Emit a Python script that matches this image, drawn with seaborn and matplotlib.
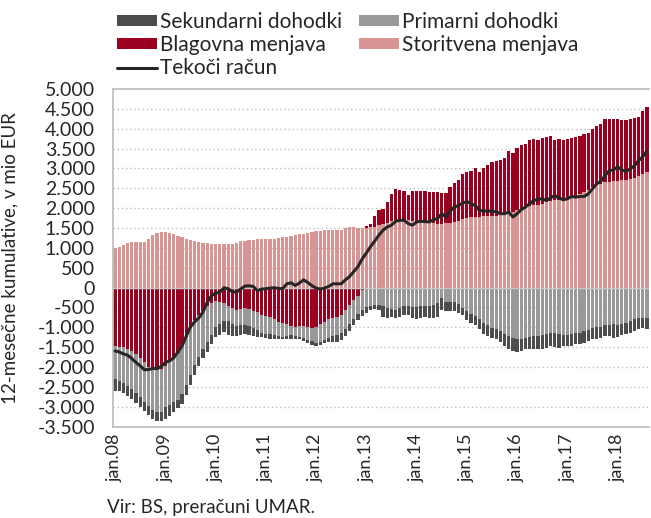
import numpy as np
import pandas as pd
import matplotlib
matplotlib.use('Agg')
import matplotlib.pyplot as plt
import seaborn as sns
from matplotlib.ticker import FuncFormatter, MultipleLocator

# mesečni podatki jan.2008 - avg.2018, 12-mesečne kumulative v mio EUR
months = pd.date_range('2008-01-01', '2018-08-01', freq='MS')

storitvena = [
    984, 1009, 1059, 1109, 1159, 1151, 1151, 1151, 1226, 1318, 1376, 1393,
    1393, 1376, 1343, 1309, 1276, 1226, 1201, 1184, 1159, 1126, 1110, 1094,
    1094, 1100, 1100, 1094, 1100, 1130, 1160, 1180, 1200, 1205, 1210, 1210,
    1215, 1215, 1220, 1240, 1260, 1280, 1300, 1320, 1340, 1360, 1380, 1400,
    1420, 1430, 1440, 1450, 1455, 1455, 1460, 1500, 1520, 1525, 1510, 1505,
    1510, 1527, 1530, 1570, 1590, 1625, 1670, 1700, 1710, 1705, 1690, 1675,
    1665, 1651, 1640, 1628, 1620, 1612, 1609, 1615, 1630, 1655, 1680, 1725,
    1760, 1776, 1780, 1785, 1790, 1795, 1800, 1810, 1820, 1830, 1850, 1900,
    1950, 1990, 2025, 2045, 2067, 2090, 2110, 2150, 2190, 2200, 2210, 2230,
    2250, 2270, 2300, 2350, 2400, 2450, 2520, 2570, 2620, 2650, 2665, 2675,
    2690, 2700, 2710, 2730, 2760, 2800, 2860, 2900,
]
blagovna = [
    -1472, -1489, -1505, -1539, -1597, -1664, -1764, -1872, -1989, -2047, -2072, -2055,
    -1980, -1872, -1764, -1639, -1455, -1239, -1014, -806, -681, -581, -472, -381,
    -347, -364, -381, -456, -514, -556, -539, -514, -539, -581, -614, -681,
    -722, -739, -789, -872, -897, -931, -972, -989, -964, -972, -997, -1014,
    -989, -931, -864, -781, -756, -739, -681, -572, -431, -306, -206, -72,
    30, 80, 263, 373, 395, 527, 690, 785, 750, 738, 628, 768,
    761, 775, 786, 790, 781, 789, 776, 770, 896, 980, 1030, 1135,
    1150, 1167, 1230, 1133, 1220, 1298, 1351, 1383, 1398, 1430, 1576, 1476,
    1576, 1594, 1584, 1681, 1667, 1619, 1649, 1642, 1628, 1509, 1524, 1479,
    1484, 1489, 1492, 1468, 1476, 1451, 1464, 1497, 1506, 1584, 1569, 1559,
    1544, 1509, 1499, 1504, 1499, 1492, 1590, 1650,
]
primarni = [
    -833, -858, -900, -950, -958, -1000, -1000, -1000, -983, -1050, -1066, -1083,
    -1041, -1075, -1108, -1183, -1225, -1208, -1191, -1150, -1066, -958, -900, -816,
    -650, -550, -466, -383, -392, -417, -400, -433, -441, -450, -458, -458,
    -458, -441, -417, -358, -342, -292, -233, -225, -275, -300, -317, -342,
    -400, -441, -466, -491, -475, -466, -458, -466, -483, -475, -458, -500,
    -489, -456, -431, -431, -472, -514, -539, -556, -514, -472, -472, -489,
    -489, -472, -472, -472, -447, -389, -264, -364, -372, -372, -406, -514,
    -597, -664, -722, -789, -889, -955, -1014, -1055, -1097, -1180, -1222, -1264,
    -1289, -1289, -1264, -1239, -1222, -1222, -1205, -1180, -1139, -1155, -1180, -1205,
    -1205, -1180, -1155, -1139, -1105, -1072, -1014, -997, -989, -955, -939, -930,
    -955, -930, -889, -847, -805, -772, -764, -764,
]
sekundarni = [
    -292, -258, -250, -250, -250, -250, -250, -250, -250, -208, -233, -233,
    -283, -292, -267, -217, -250, -250, -250, -250, -225, -225, -250, -233,
    -250, -275, -275, -358, -317, -250, -250, -233, -225, -200, -167, -100,
    -83, -108, -100, -75, -58, -67, -83, -75, -58, -75, -75, -92,
    -83, -75, -75, -92, -142, -167, -183, -183, -183, -175, -158, -150,
    -150, -100, -108, -125, -267, -250, -200, -208, -225, -208, -208, -275,
    -300, -292, -267, -292, -317, -350, -292, -217, -225, -225, -233, -167,
    -225, -225, -233, -250, -292, -267, -250, -250, -267, -292, -317, -333,
    -333, -308, -292, -300, -317, -333, -333, -333, -333, -342, -333, -267,
    -267, -292, -275, -275, -283, -275, -292, -292, -275, -267, -283, -333,
    -283, -275, -292, -292, -292, -267, -250, -275,
]
tekoci = [
    -1597, -1622, -1672, -1705, -1789, -1889, -1972, -2072, -2064, -2039, -2039, -1989,
    -1889, -1847, -1772, -1622, -1472, -1222, -989, -864, -764, -614, -372, -206,
    -139, -122, -6, -31, -106, -114, -39, 36, 44, 28, -81, -39,
    -31, -14, -6, -22, -31, 94, 119, 52, 111, 194, 128, 44,
    -14, -39, -14, 28, 94, 94, 94, 194, 277, 402, 527, 720,
    870, 1030, 1170, 1320, 1444, 1527, 1569, 1669, 1694, 1694, 1610, 1569,
    1652, 1669, 1660, 1652, 1710, 1735, 1860, 1777, 1927, 2027, 2068, 2127,
    2168, 2110, 2068, 1943, 1927, 1927, 1918, 1910, 1860, 1860, 1902, 1777,
    1860, 1960, 2027, 2110, 2193, 2227, 2235, 2193, 2260, 2318, 2260, 2210,
    2235, 2293, 2277, 2293, 2293, 2360, 2485, 2610, 2677, 2818, 2943, 2960,
    3043, 2960, 2926, 2985, 3068, 3193, 3293, 3443,
]

df = pd.DataFrame({
    'Storitvena menjava': storitvena,
    'Blagovna menjava': blagovna,
    'Primarni dohodki': primarni,
    'Sekundarni dohodki': sekundarni,
    'Tekoči račun': tekoci,
}, index=months)

barve = {
    'Storitvena menjava': '#d99594',
    'Blagovna menjava': '#9c0020',
    'Primarni dohodki': '#999999',
    'Sekundarni dohodki': '#4d4d4d',
}

sns.set_style('white')
plt.rcParams['font.family'] = ['Lato', 'DejaVu Sans']

fig = plt.figure(figsize=(6.51, 5.18), dpi=100)
ax = fig.add_axes([113/651, 1 - 426.5/518, 536/651, (426.5 - 89)/518])

x = np.arange(len(df))
pos = np.zeros(len(df))
neg = np.zeros(len(df))
bars = {}
for col, c in barve.items():
    v = df[col].values
    bottom = np.where(v >= 0, pos, neg)
    bars[col] = ax.bar(x, v, bottom=bottom, width=0.78, color=c, linewidth=0,
                       label=col, zorder=2)
    pos = pos + np.clip(v, 0, None)
    neg = neg + np.clip(v, None, 0)

ax.axhline(0, color='#c8c8c8', lw=1, zorder=3)
sns.lineplot(x=x, y=df['Tekoči račun'].values, ax=ax, color='#262626',
             lw=2.2, zorder=4, label='Tekoči račun')
line = ax.get_lines()[-1]
ax.get_legend().remove()

ax.set_xlim(-0.5, len(df) - 0.5)
ax.set_ylim(-3500, 5000)
ax.yaxis.set_major_locator(MultipleLocator(500))
ax.yaxis.set_major_formatter(FuncFormatter(lambda v, p: f"{v:,.0f}".replace(',', '.')))
ax.grid(axis='y', color='#bfbfbf', ls=(0, (1, 2)), lw=1, zorder=0)
ax.set_axisbelow(True)

jan = np.arange(0, len(df), 12)
ax.set_xticks(jan)
ax.set_xticklabels([f"jan.{d.year % 100:02d}" for d in months[jan]], rotation=90)
ax.tick_params(axis='x', length=0, pad=5, labelsize=13)
ax.tick_params(axis='y', length=0, pad=13, labelsize=14)

for s in ['left', 'top', 'bottom']:
    ax.spines[s].set_color('#c0c0c0')
    ax.spines[s].set_linewidth(1.3)
ax.spines['right'].set_visible(False)

ax.set_ylabel('12-mesečne kumulative, v mio EUR', fontsize=13.5)
ax.yaxis.set_label_coords(-0.177, 0.5)

handles = [bars['Sekundarni dohodki'], bars['Blagovna menjava'], line,
           bars['Primarni dohodki'], bars['Storitvena menjava']]
labels = ['Sekundarni dohodki', 'Blagovna menjava', 'Tekoči račun',
          'Primarni dohodki', 'Storitvena menjava']
fig.legend(handles, labels, ncol=2, loc='upper left',
           bbox_to_anchor=(117/651, 1 - 12/518), frameon=False, fontsize=15,
           handlelength=1.9, handleheight=0.4, handletextpad=0.18,
           columnspacing=0.8, labelspacing=0.15, borderpad=0, borderaxespad=0)

fig.text(107/651, 1 - 507/518, 'Vir: BS, preračuni UMAR.', fontsize=13.5,
         ha='left', va='center')

fig.savefig('out.png', dpi=100)
